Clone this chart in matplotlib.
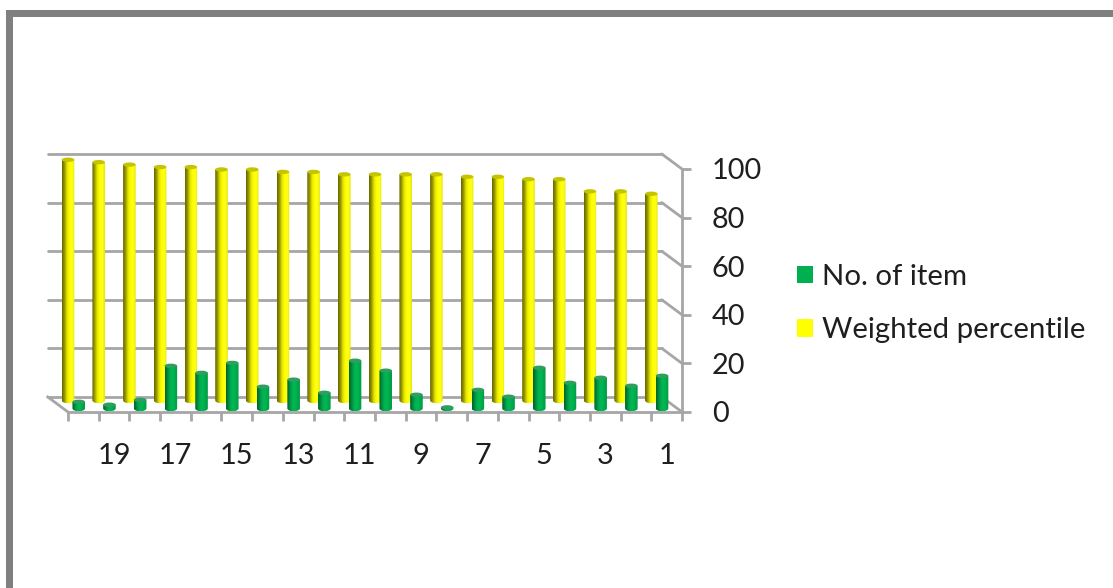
import numpy as np
import matplotlib
matplotlib.use('Agg')
import matplotlib.pyplot as plt
from matplotlib.colors import LinearSegmentedColormap
from matplotlib.patches import Ellipse, Patch, PathPatch, Rectangle
from matplotlib.path import Path

W, H = 1113, 588

categories = list(range(20, 0, -1))
no_of_item = [2.7, 1.5, 3.5, 17.5, 14.6, 18.7, 8.9, 11.8, 6.4, 19.6,
              15.5, 5.6, 0.4, 7.6, 4.8, 16.7, 10.5, 12.6, 9.3, 13.4]
weighted_percentile = [99, 98, 97, 96, 96, 95, 95, 94, 94, 93,
                       93, 93, 93, 92, 92, 91, 91, 86, 86, 85]
y_ticks = [0, 20, 40, 60, 80, 100]

GRID = '#a6a6a6'
TEXT = '#1f1f1f'
plt.rcParams['font.family'] = ['Lato', 'DejaVu Sans']

yellow_cmap = LinearSegmentedColormap.from_list(
    'y', ['#666600', '#999900', '#e8e800', '#ffff00', '#ffff20', '#e6e600'])
green_cmap = LinearSegmentedColormap.from_list(
    'g', ['#00602c', '#008a3f', '#00b050', '#00b854', '#00a94c', '#009a45'])


def px_axes(fig, left, right, top, bottom):
	return fig.add_axes([left / W, 1 - bottom / H, (right - left) / W, (bottom - top) / H])


def draw_cylinders(ax, xs, values, base, width, cmap, cap_color, z):
	grad = np.linspace(0, 1, 64).reshape(1, -1)
	ry_top, ry_bot = 0.9, 1.2
	theta = np.linspace(np.pi, 2 * np.pi, 24)
	for x, v in zip(xs, values):
		x0, x1 = x - width / 2, x + width / 2
		top = base + v
		# straight sides with a round bottom, used as the clip for the gradient
		foot_x = x + width / 2 * np.cos(theta)
		foot_y = base + ry_bot * np.sin(theta)
		verts = [(x0, top)] + list(zip(foot_x, foot_y)) + [(x1, top), (x0, top)]
		clip = PathPatch(Path(verts, closed=True), transform=ax.transData)
		im = ax.imshow(grad, cmap=cmap, aspect='auto', zorder=z,
					   extent=(x0, x1, base - ry_bot, top), interpolation='bilinear')
		im.set_clip_path(clip)
		im.set_clip_box(ax.figure.bbox)
		ax.add_patch(Ellipse((x, top), width, 2 * ry_top, facecolor=cap_color,
							 edgecolor='none', zorder=z + 0.1, clip_on=False))


fig = plt.figure(figsize=(W / 100, H / 100), dpi=100, facecolor='white')

# picture frame, top and left only
fig.add_artist(Rectangle((6 / W, 0), 7 / W, 1 - 10 / H, transform=fig.transFigure,
						 facecolor='#808080', edgecolor='none'))
fig.add_artist(Rectangle((6 / W, 1 - 17 / H), 1 - 6 / W, 7 / H, transform=fig.transFigure,
						 facecolor='#808080', edgecolor='none'))

ax = px_axes(fig, 68, 682, 169, 412)
idx = np.arange(len(categories)) + 0.5

# back wall depth, in axis units
dx, dy = -0.66, 6.2
for t in y_ticks:
	ax.plot([dx, 20 + dx], [t + dy, t + dy], color=GRID, lw=2.0, clip_on=False, zorder=1,
			solid_capstyle='round')
	ax.plot([20 + dx, 20], [t + dy, t], color=GRID, lw=2.0, clip_on=False, zorder=1,
			solid_capstyle='round')
ax.plot([dx, 0], [dy, 0], color=GRID, lw=2.0, clip_on=False, zorder=1)

draw_cylinders(ax, idx - 0.5, weighted_percentile, 4.8, 0.41, yellow_cmap, '#c4c400', 3)
draw_cylinders(ax, idx - 0.15, no_of_item, 1.5, 0.41, green_cmap, '#2f9e5f', 4)

ax.set_xlim(0, 20)
ax.set_ylim(0, 100)
ax.patch.set_visible(False)
for s in ['left', 'top']:
	ax.spines[s].set_visible(False)
for s in ['right', 'bottom']:
	ax.spines[s].set_color(GRID)
	ax.spines[s].set_linewidth(2.0)

ax.yaxis.tick_right()
ax.set_yticks(y_ticks)
ax.tick_params(axis='y', length=6.5, width=2.0, color=GRID, labelsize=20.8,
			   labelcolor=TEXT, pad=15)
ax.set_xticks(np.arange(21))
ax.set_xticklabels([])
ax.tick_params(axis='x', which='major', length=6.5, width=2.0, color=GRID)
ax.set_xticks(idx, labels=[str(c) if c % 2 else '' for c in categories], minor=True)
ax.tick_params(axis='x', which='minor', length=0, labelsize=20.8, labelcolor=TEXT, pad=22)

handles = [Patch(facecolor='#00b050', edgecolor='none', label='No. of item'),
		   Patch(facecolor='#ffff00', edgecolor='none', label='Weighted percentile')]
fig.legend(handles=handles, loc='upper left', bbox_to_anchor=(788 / W, 1 - 255 / H),
		   frameon=False, fontsize=21.2, handlelength=0.55, handleheight=0.55,
		   handletextpad=0.3, labelspacing=0.93, labelcolor=TEXT,
		   borderpad=0.3, borderaxespad=0)

fig.savefig('out.png', dpi=100)
